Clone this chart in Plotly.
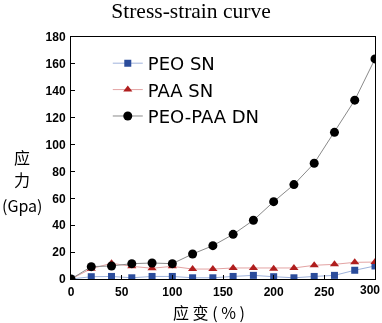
import plotly.graph_objects as go

strain = [0, 20, 40, 60, 80, 100, 120, 140, 160, 180, 200, 220, 240, 260, 280, 300]
peo_sn = [0, 1.7, 1.9, 0.9, 1.9, 1.9, 0.9, 0.9, 1.9, 2.7, 1.7, 0.9, 1.9, 2.7, 6.5, 9.7]
paa_sn = [0, 7.7, 11.7, 9.4, 8.0, 9.4, 7.4, 7.4, 8.2, 8.2, 7.7, 8.2, 10.2, 10.9, 12.4, 12.6]
dn = [0, 9.2, 9.7, 11.4, 11.9, 11.4, 18.6, 24.8, 33.2, 43.7, 57.5, 70.2, 86.1, 109.1, 133.0, 163.7]

x_ticks = [0, 50, 100, 150, 200, 250]
x_end_tick = [300]
y_ticks = [0, 20, 40, 60, 80, 100, 120, 140, 160, 180]

fig = go.Figure()
fig.add_trace(go.Scatter(x=strain, y=peo_sn, name="PEO SN", mode="lines+markers",
                         line=dict(color="#9fb3dc", width=1),
                         marker=dict(symbol="square", size=7, color="#2b4c9b")))
fig.add_trace(go.Scatter(x=strain, y=paa_sn, name="PAA SN", mode="lines+markers",
                         line=dict(color="#e3a3a3", width=1),
                         marker=dict(symbol="triangle-up", size=8, color="#b01e1e")))
fig.add_trace(go.Scatter(x=strain, y=dn, name="PEO-PAA DN", mode="lines+markers",
                         line=dict(color="#8a8a8a", width=1),
                         marker=dict(symbol="circle", size=9, color="#000000")))
# invisible helper trace so the overlaying axis (carrying the end tick label) is drawn
fig.add_trace(go.Scatter(x=strain, y=dn, xaxis="x2", yaxis="y", mode="markers",
                         opacity=0, showlegend=False, hoverinfo="skip"))

tick_font = dict(family="Liberation Sans", size=12, color="black", weight="bold")
axis_common = dict(showline=True, linecolor="black", linewidth=1, mirror=True,
                   ticks="inside", ticklen=4, tickcolor="black", showgrid=False,
                   zeroline=False, ticklabelstandoff=2, ticklabeloverflow="allow",
                   automargin=False, tickfont=tick_font)

fig.update_layout(
    width=382, height=323,
    margin=dict(l=71, r=7, t=37, b=44),
    paper_bgcolor="white", plot_bgcolor="white",
    title=dict(text="Stress-strain curve", x=0.5, xanchor="center", y=0.967, yanchor="middle",
               font=dict(family="Liberation Serif", size=21.5, color="black")),
    showlegend=True,
    legend=dict(x=0.121, y=0.967, xanchor="left", yanchor="top", bgcolor="rgba(0,0,0,0)",
                font=dict(family="DejaVu Sans", size=18, color="black"),
                tracegroupgap=0),
    xaxis=dict(range=[0, 300], tickvals=x_ticks, **axis_common),
    xaxis2=dict(range=[0, 300], tickvals=x_end_tick, overlaying="x", anchor="y", side="bottom",
                showline=False, ticks="", showgrid=False, zeroline=False,
                ticklabelstandoff=2, ticklabelshift=-5, ticklabeloverflow="allow",
                automargin=False, tickfont=tick_font),
    yaxis=dict(range=[0, 180], tickvals=y_ticks, **axis_common),
)

fig.add_annotation(text="应 变 ( % )", xref="paper", yref="paper",
                   x=0.454, y=0, yshift=-33, xanchor="center", yanchor="middle", showarrow=False,
                   borderpad=0,
                   font=dict(family="Noto Sans CJK SC", size=16, color="black"))

ylab_font = dict(family="Noto Sans CJK SC", size=16, color="black")
for txt, ypx in [("应", 157), ("力", 179), ("(Gpa)", 205)]:
    fig.add_annotation(text=txt, xref="paper", yref="paper",
                       x=-0.161, y=(279 - ypx) / 242, xanchor="center", yanchor="middle",
                       showarrow=False, font=ylab_font)

fig.write_html("out.html", config={"displayModeBar": False},
               post_script="document.body.style.margin='0px';")
